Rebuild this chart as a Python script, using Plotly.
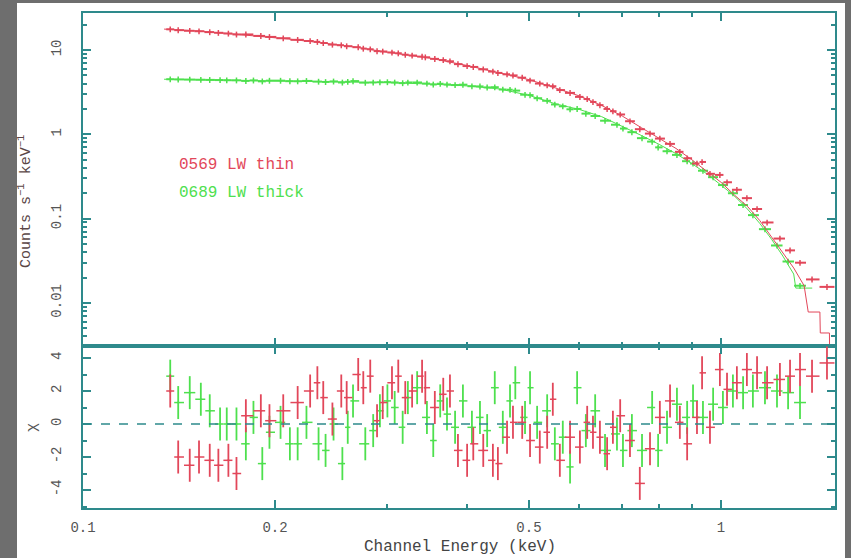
import math
import plotly.graph_objects as go

# ---------------- data ----------------
red_energy = [0.137, 0.141, 0.147, 0.152, 0.158, 0.163, 0.169, 0.174, 0.180, 0.190,
              0.196, 0.206, 0.217, 0.227, 0.233, 0.238, 0.246, 0.254, 0.259, 0.270,
              0.275, 0.282, 0.289, 0.295, 0.305, 0.312, 0.320, 0.328, 0.340, 0.344,
              0.356, 0.367, 0.376, 0.387, 0.400, 0.409, 0.424, 0.439, 0.447, 0.462,
              0.472, 0.488, 0.502, 0.520, 0.534, 0.545, 0.559, 0.580, 0.601, 0.617,
              0.630, 0.646, 0.663, 0.677, 0.695, 0.720, 0.746, 0.774, 0.802, 0.832,
              0.862, 0.885, 0.917, 0.934, 0.961, 0.996, 1.022, 1.059, 1.098, 1.139,
              1.181, 1.237, 1.283, 1.330, 1.389, 1.466]
red_counts = [17.6, 17.2, 16.9, 16.7, 16.3, 16.0, 15.7, 15.3, 15.3, 14.7,
              14.3, 13.8, 13.2, 12.8, 12.5, 12.1, 11.6, 11.4, 11.1, 10.8,
              10.4, 10.2, 9.7, 9.6, 9.35, 9.15, 8.8, 8.6, 8.35, 8.2,
              7.85, 7.6, 7.35, 6.8, 6.45, 6.3, 5.9, 5.55, 5.35, 5.15,
              5.0, 4.7, 4.35, 4.0, 3.82, 3.72, 3.35, 3.1, 2.78, 2.62,
              2.42, 2.22, 2.0, 1.88, 1.72, 1.43, 1.15, 1.02, 0.89, 0.77,
              0.62, 0.52, 0.45, 0.47, 0.34, 0.33, 0.27, 0.22, 0.175, 0.13,
              0.09, 0.058, 0.042, 0.03, 0.019, 0.0155]
red_chi = [2.0, -2.0, -2.5, -2.0, -2.2, -2.5, -2.2, -3.0, 0.5, 0.8,
           0.2, 0.8, 1.3, 2.0, 2.5, 1.6, 0.3, 2.0, 1.6, 3.0,
           2.2, 2.9, 0.2, 1.3, 2.5, 2.9, 1.6, 2.0, 2.9, 2.2,
           1.0, 1.8, 2.0, -1.6, -2.2, -1.2, -1.6, -2.2, -2.4, -0.8,
           0.1, 0.1, -1.0, -1.4, -0.5, 1.5, -2.2, -0.8, -1.4, 0.1,
           -0.5, -0.8, -1.8, -0.2, 0.5, -1.0, -3.6, -1.5, 0.4, 1.4,
           0.1, -1.2, 0.4, 3.1, -0.2, 3.3, 2.1, 2.5, 3.3, 3.1,
           2.5, 2.7, 2.9, 3.3, 2.9, 3.7]

green_energy = [0.137, 0.141, 0.147, 0.153, 0.158, 0.164, 0.168, 0.174, 0.180, 0.185,
                0.191, 0.196, 0.204, 0.211, 0.217, 0.224, 0.234, 0.240, 0.247, 0.255,
                0.260, 0.265, 0.277, 0.285, 0.292, 0.300, 0.308, 0.317, 0.323, 0.334,
                0.346, 0.354, 0.363, 0.372, 0.383, 0.394, 0.407, 0.419, 0.430, 0.442,
                0.455, 0.467, 0.476, 0.493, 0.502, 0.515, 0.534, 0.549, 0.565, 0.580,
                0.595, 0.614, 0.635, 0.658, 0.687, 0.702, 0.725, 0.752, 0.780, 0.797,
                0.823, 0.853, 0.885, 0.904, 0.937, 0.972, 1.007, 1.044, 1.083, 1.122,
                1.172, 1.224, 1.274, 1.330]
green_counts = [4.5, 4.48, 4.46, 4.44, 4.42, 4.4, 4.38, 4.37, 4.3, 4.36,
                4.25, 4.33, 4.33, 4.27, 4.26, 4.3, 4.22, 4.18, 4.24, 4.12,
                4.2, 4.28, 4.1, 4.12, 4.15, 4.16, 4.12, 4.05, 4.12, 4.12,
                4.0, 3.9, 3.98, 3.9, 3.84, 3.88, 3.72, 3.7, 3.6, 3.62,
                3.4, 3.38, 3.3, 2.95, 2.92, 2.68, 2.5, 2.26, 2.15, 1.98,
                2.0, 1.76, 1.65, 1.45, 1.3, 1.17, 1.06, 0.9, 0.82, 0.7,
                0.63, 0.57, 0.48, 0.45, 0.37, 0.31, 0.25, 0.2, 0.145, 0.11,
                0.075, 0.048, 0.031, 0.016]
green_chi = [2.9, 1.3, 1.9, 1.5, 0.8, 0.0, 0.0, 0.0, -1.2, 0.4,
             -2.4, -0.5, 0.1, -1.2, -1.2, 0.1, -1.2, -1.6, 0.0, -2.4,
             -0.2, 1.4, -1.2, -0.4, 0.8, 1.4, 1.0, -0.2, 1.6, 2.2,
             0.4, -1.0, 1.4, 0.6, -0.2, 1.4, -0.2, 0.4, -0.4, 2.2,
             -0.2, 1.4, 2.5, 0.4, 2.2, 0.1, 0.8, -1.2, -0.8, -2.6,
             2.2, -0.4, 0.8, -1.6, -0.6, -1.6, -0.4, -1.6, 1.0, -1.6,
             -0.2, 1.2, 0.4, 1.4, 0.4, 1.2, 1.0, 2.0, 1.9, 2.0,
             2.2, 2.0, 1.9, 1.3]

# folded model curves (drawn as thin lines, ending in the last model bins)
red_model_energy = [0.134, 0.15, 0.17, 0.19, 0.21, 0.24, 0.27, 0.30, 0.35, 0.40, 0.45,
                    0.50, 0.55, 0.60, 0.65, 0.70, 0.75, 0.80, 0.85, 0.90, 0.95, 1.0,
                    1.05, 1.1, 1.15, 1.2, 1.25, 1.3, 1.35, 1.37, 1.429, 1.431, 1.479,
                    1.481]
red_model = [17.7, 16.9, 15.6, 14.6, 13.5, 12.0, 10.7, 9.4, 8.0, 6.55, 5.35,
             4.45, 3.55, 2.85, 2.2, 1.65, 1.2, 0.9, 0.68, 0.5, 0.36, 0.27,
             0.19, 0.14, 0.095, 0.06, 0.04, 0.026, 0.016, 0.0078, 0.0078, 0.0044,
             0.0044, 0.0015]
green_model_energy = [0.134, 0.2, 0.25, 0.3, 0.35, 0.4, 0.45, 0.5, 0.55, 0.6, 0.65,
                      0.7, 0.75, 0.8, 0.85, 0.9, 0.95, 1.0, 1.05, 1.1, 1.15, 1.2,
                      1.25, 1.3, 1.31, 1.39]
green_model = [4.5, 4.33, 4.2, 4.1, 3.95, 3.75, 3.45, 2.9, 2.3, 1.97, 1.62,
               1.25, 0.97, 0.76, 0.59, 0.45, 0.34, 0.25, 0.185, 0.13, 0.088, 0.057,
               0.036, 0.022, 0.015, 0.015]

series_labels = ["0569 LW thin", "0689 LW thick"]
x_tick_vals = [0.1, 0.2, 0.5, 1]
x_tick_text = ["0.1", "0.2", "0.5", "1"]
y_tick_vals = [0.01, 0.1, 1, 10]
y_tick_text = ["0.01", "0.1", "1", "10"]
chi_tick_vals = [-4, -2, 0, 2, 4]
chi_tick_text = ["-4", "-2", "0", "2", "4"]

# ---------------- styling ----------------
RED = "#e2475a"
GREEN = "#4ee04e"
AX = "#2e8a8c"
LBL = "#555555"
FONT = "Liberation Mono"
W, H = 851, 558


def fx(p):
    return p / W


def fy(p):
    return 1 - p / H


def bin_halfwidths(e):
    edges = [math.sqrt(e[i] * e[i + 1]) for i in range(len(e) - 1)]
    lo = [e[0] ** 2 / edges[0]] + edges
    hi = edges + [e[-1] ** 2 / edges[-1]]
    return [h - c for h, c in zip(hi, e)], [c - l for c, l in zip(e, lo)]


fig = go.Figure()

for en, cnt, chi, mod_e, mod, col in [
    (green_energy, green_counts, green_chi, green_model_energy, green_model, GREEN),
    (red_energy, red_counts, red_chi, red_model_energy, red_model, RED),
]:
    plus, minus = bin_halfwidths(en)
    fig.add_trace(go.Scatter(
        x=mod_e, y=mod, mode="lines", xaxis="x", yaxis="y",
        line=dict(color=col, width=1),
        showlegend=False, hoverinfo="skip"))
    fig.add_trace(go.Scatter(
        x=en, y=cnt, mode="markers", xaxis="x", yaxis="y",
        marker=dict(size=2, color=col),
        error_x=dict(type="data", symmetric=False, array=plus, arrayminus=minus,
                     color=col, thickness=2, width=0),
        error_y=dict(type="percent", value=8, color=col, thickness=1.5, width=0),
        showlegend=False, hoverinfo="skip"))
    fig.add_trace(go.Scatter(
        x=en, y=chi, mode="markers", xaxis="x2", yaxis="y2",
        marker=dict(size=2, color=col),
        error_x=dict(type="data", symmetric=False, array=plus, arrayminus=minus,
                     color=col, thickness=1.5, width=0),
        error_y=dict(type="constant", value=1, color=col, thickness=1.8, width=0),
        showlegend=False, hoverinfo="skip"))

x_range = [-1, 0.1787]
x_minor = [0.3, 0.4, 0.6, 0.7, 0.8, 0.9]
y_minor = [m * d for d in (0.001, 0.01, 0.1, 1, 10) for m in range(2, 10)]

common = dict(showline=True, linecolor=AX, linewidth=2, mirror="allticks",
              ticks="inside", tickcolor=AX, tickwidth=1.5, showgrid=False,
              zeroline=False, automargin=False,
              tickfont=dict(family=FONT, size=14, color=LBL))

fig.update_layout(
    width=W, height=H,
    margin=dict(l=0, r=0, t=0, b=0, pad=0, autoexpand=False),
    paper_bgcolor="#6e6e6e", plot_bgcolor="white",
    xaxis=dict(domain=[fx(83), fx(835)], anchor="y", type="log", range=x_range,
               tickvals=x_tick_vals, ticktext=x_tick_text, showticklabels=False,
               ticklen=8, matches="x2",
               minor=dict(tickvals=x_minor, ticks="inside", ticklen=4, tickcolor=AX),
               **common),
    yaxis=dict(domain=[fy(346), fy(13)], anchor="x", type="log", range=[-2.511, 1.439],
               tickvals=y_tick_vals, ticktext=y_tick_text, tickangle=-90, ticklen=8,
               ticklabelstandoff=14,
               minor=dict(tickvals=y_minor, ticks="inside", ticklen=4, tickcolor=AX),
               **common),
    xaxis2=dict(domain=[fx(83), fx(835)], anchor="y2", type="log", range=x_range,
                tickvals=x_tick_vals, ticktext=x_tick_text, ticklen=8,
                ticklabelstandoff=5,
                minor=dict(tickvals=x_minor, ticks="inside", ticklen=4, tickcolor=AX),
                **common),
    yaxis2=dict(domain=[fy(508), fy(346)], anchor="x2", range=[-5.09, 4.727],
                tickvals=chi_tick_vals, ticktext=chi_tick_text, tickangle=-90, ticklen=8,
                ticklabelstandoff=14,
                minor=dict(tickvals=[-5, -3, -1, 1, 3], ticks="inside", ticklen=4,
                           tickcolor=AX),
                **common),
    shapes=[
        dict(type="rect", xref="paper", yref="paper", x0=fx(17), x1=fx(845),
             y0=0, y1=fy(3), fillcolor="white", line=dict(width=0), layer="below"),
        dict(type="line", xref="x2 domain", yref="y2", x0=0, x1=1, y0=0, y1=0,
             line=dict(color=AX, width=1.5, dash="dash")),
    ],
    annotations=[
        dict(text="Channel Energy (keV)", x=fx(460), y=fy(547), xref="paper",
             yref="paper", showarrow=False, xanchor="center", yanchor="middle",
             font=dict(family=FONT, size=16, color="#444444")),
        dict(text="Counts s<sup>−1</sup> keV<sup>−1</sup>", x=fx(25), y=fy(202),
             xref="paper", yref="paper", showarrow=False, textangle=-90,
             xanchor="center", yanchor="middle",
             font=dict(family=FONT, size=15, color="#5a4646")),
        dict(text="χ", x=fx(32), y=fy(428), xref="paper", yref="paper",
             showarrow=False, textangle=-90, xanchor="center", yanchor="middle",
             font=dict(family=FONT, size=15, color="#555555")),
        dict(text=series_labels[0], x=fx(177), y=fy(165), xref="paper", yref="paper",
             showarrow=False, xanchor="left", yanchor="middle",
             font=dict(family=FONT, size=16, color=RED)),
        dict(text=series_labels[1], x=fx(177), y=fy(193), xref="paper", yref="paper",
             showarrow=False, xanchor="left", yanchor="middle",
             font=dict(family=FONT, size=16, color=GREEN)),
    ],
)

fig.write_html("out.html")
